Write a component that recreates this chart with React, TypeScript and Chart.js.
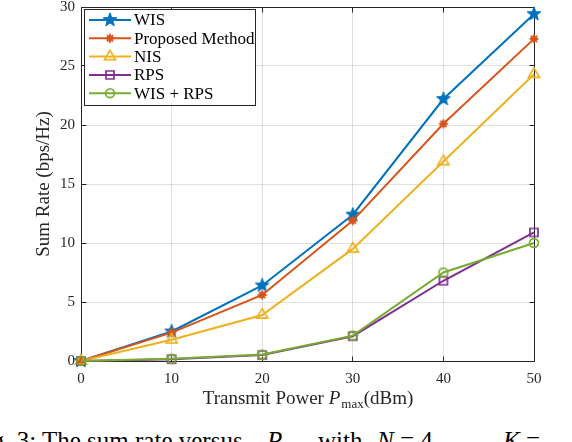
import React, { useEffect, useRef } from "react";
import { Chart, registerables } from "chart.js";

Chart.register(...registerables);

// ---- data ----
const xValues = [0, 10, 20, 30, 40, 50];
const wisValues = [0, 2.5, 6.4, 12.4, 22.2, 29.4];
const proposedValues = [0, 2.4, 5.6, 11.9, 20.1, 27.3];
const nisValues = [0, 1.8, 3.9, 9.5, 16.9, 24.3];
const rpsValues = [0, 0.15, 0.5, 2.1, 6.8, 10.9];
const wisRpsValues = [0, 0.2, 0.55, 2.15, 7.5, 10.0];

const seriesNames = ["WIS", "Proposed Method", "NIS", "RPS", "WIS + RPS"];
const seriesColors = ["#0072BD", "#D95319", "#EDB120", "#7E2F8E", "#77AC30"];
const seriesMarkers = ["star", "asterisk", "triangle", "square", "circle"];

const xTickStep = 10;
const yTickStep = 5;
const xMin = 0, xMax = 50, yMin = 0, yMax = 30;
const yTitle = "Sum Rate (bps/Hz)";

const SERIF = '"Liberation Serif", "Times New Roman", serif';
const TXT = "#262626";
const GRID = "rgba(38,38,38,0.14)";

function makeMarker(kind: string, color: string): HTMLCanvasElement {
  const s = 18;
  const c = document.createElement("canvas");
  c.width = s;
  c.height = s;
  const g = c.getContext("2d")!;
  g.translate(s / 2, s / 2);
  g.strokeStyle = color;
  g.fillStyle = color;
  g.lineWidth = 1.7;
  g.beginPath();
  if (kind === "star") {
    const R = 7.2, r = 3;
    for (let k = 0; k < 10; k++) {
      const ang = -Math.PI / 2 + (k * Math.PI) / 5;
      const rad = k % 2 === 0 ? R : r;
      const px = Math.cos(ang) * rad, py = Math.sin(ang) * rad;
      if (k === 0) g.moveTo(px, py); else g.lineTo(px, py);
    }
    g.closePath();
    g.fill();
    g.lineWidth = 1;
    g.stroke();
  } else if (kind === "asterisk") {
    const R = 4.4;
    g.lineWidth = 1.9;
    for (let k = 0; k < 4; k++) {
      const ang = (k * Math.PI) / 4;
      g.moveTo(Math.cos(ang) * R, Math.sin(ang) * R);
      g.lineTo(-Math.cos(ang) * R, -Math.sin(ang) * R);
    }
    g.stroke();
    g.beginPath();
    g.arc(0, 0, 2.8, 0, Math.PI * 2);
    g.fill();
  } else if (kind === "triangle") {
    const R = 6.4;
    g.moveTo(0, -R);
    g.lineTo(R * 0.866, R * 0.5);
    g.lineTo(-R * 0.866, R * 0.5);
    g.closePath();
    g.stroke();
  } else if (kind === "square") {
    const h = 4;
    g.rect(-h, -h, 2 * h, 2 * h);
    g.stroke();
  } else {
    g.arc(0, 0, 4.4, 0, Math.PI * 2);
    g.stroke();
  }
  return c;
}

const al = (p: number) => Math.round(p - 0.5) + 0.5;

export default function App() {
  const ref = useRef<HTMLCanvasElement | null>(null);

  useEffect(() => {
    const canvas = ref.current;
    if (!canvas) return;
    const allValues = [wisValues, proposedValues, nisValues, rpsValues, wisRpsValues];
    const markers = seriesMarkers.map((m, i) => makeMarker(m, seriesColors[i]));

    const framePlugin = {
      id: "frame",
      beforeDatasetsDraw(chart: any) {
        const { ctx, chartArea: a, scales } = chart;
        const L = al(a.left), R = al(a.right), T = al(a.top), B = al(a.bottom);
        ctx.save();
        ctx.strokeStyle = TXT;
        ctx.lineWidth = 1;
        ctx.beginPath();
        ctx.rect(L, T, R - L, B - T);
        const tl = 5;
        for (let v = xMin; v <= xMax; v += xTickStep) {
          const px = al(scales.x.getPixelForValue(v));
          ctx.moveTo(px, B); ctx.lineTo(px, B - tl);
          ctx.moveTo(px, T); ctx.lineTo(px, T + tl);
        }
        for (let v = yMin; v <= yMax; v += yTickStep) {
          const py = al(scales.y.getPixelForValue(v));
          ctx.moveTo(L, py); ctx.lineTo(L + tl, py);
          ctx.moveTo(R, py); ctx.lineTo(R - tl, py);
        }
        ctx.stroke();
        ctx.restore();
      },
      afterDraw(chart: any) {
        const { ctx, chartArea: a } = chart;
        ctx.save();
        // x-axis title with subscript
        const parts = [
          { t: "Transmit Power ", f: `19px ${SERIF}`, dy: 0 },
          { t: "P", f: `italic 19px ${SERIF}`, dy: 0 },
          { t: "max", f: `13px ${SERIF}`, dy: 4 },
          { t: "(dBm)", f: `19px ${SERIF}`, dy: 0 },
        ];
        let total = 0;
        const widths = parts.map((p) => {
          ctx.font = p.f;
          const w = ctx.measureText(p.t).width;
          total += w;
          return w;
        });
        let x = (a.left + a.right) / 2 - total / 2;
        const baseY = 404;
        ctx.fillStyle = TXT;
        ctx.textBaseline = "alphabetic";
        ctx.textAlign = "left";
        parts.forEach((p, i) => {
          ctx.font = p.f;
          ctx.fillText(p.t, x, baseY + p.dy);
          x += widths[i] + (p.t === "P" ? 1 : 0);
        });

        // legend box
        const x0 = 84, y0 = 9, x1 = 255, y1 = 105;
        ctx.fillStyle = "#ffffff";
        ctx.fillRect(x0, y0, x1 - x0, y1 - y0);
        ctx.strokeStyle = TXT;
        ctx.lineWidth = 1;
        ctx.strokeRect(x0 + 0.5, y0 + 0.5, x1 - x0, y1 - y0);
        ctx.font = `17px ${SERIF}`;
        ctx.textBaseline = "middle";
        seriesNames.forEach((name, i) => {
          const ry = 20 + i * 18.3;
          ctx.strokeStyle = seriesColors[i];
          ctx.lineWidth = 2;
          ctx.beginPath();
          ctx.moveTo(89, ry);
          ctx.lineTo(131, ry);
          ctx.stroke();
          const m = markers[i];
          ctx.drawImage(m, 110 - m.width / 2, ry - m.height / 2);
          ctx.fillStyle = "#000";
          ctx.fillText(name, 134, ry + 1);
        });
        ctx.restore();
      },
    };

    const chart = new Chart(canvas, {
      type: "line",
      data: {
        datasets: seriesNames.map((name, i) => ({
          label: name,
          data: xValues.map((x, k) => ({ x, y: allValues[i][k] })),
          borderColor: seriesColors[i],
          backgroundColor: seriesColors[i],
          borderWidth: 2,
          pointStyle: markers[i] as any,
          pointRadius: 5,
          pointHoverRadius: 5,
          tension: 0,
          clip: false as any,
          order: seriesNames.length - i,
        })),
      },
      options: {
        responsive: false,
        animation: false,
        devicePixelRatio: window.devicePixelRatio || 1,
        layout: { padding: { left: 0, top: 5, right: 38, bottom: 0 } },
        plugins: {
          legend: { display: false },
          tooltip: { enabled: false },
        },
        scales: {
          x: {
            type: "linear",
            min: xMin,
            max: xMax,
            ticks: {
              stepSize: xTickStep,
              color: TXT,
              font: { family: SERIF, size: 15 },
              padding: 9,
              maxRotation: 0,
            },
            grid: { color: GRID, drawTicks: false, lineWidth: 1 },
            border: { display: false },
            afterFit: (s: any) => {
              s.height = 54;
              s.paddingLeft = 0;
              s.paddingRight = 0;
            },
          },
          y: {
            type: "linear",
            min: yMin,
            max: yMax,
            ticks: {
              stepSize: yTickStep,
              color: TXT,
              font: { family: SERIF, size: 15 },
              padding: 6,
            },
            grid: { color: GRID, drawTicks: false, lineWidth: 1 },
            border: { display: false },
            title: {
              display: true,
              text: yTitle,
              color: TXT,
              font: { family: SERIF, size: 19, lineHeight: 1.2 },
              padding: { top: 33, bottom: 0 },
            },
            afterFit: (s: any) => {
              s.width = 81;
              s.paddingTop = 0;
              s.paddingBottom = 0;
            },
          },
        },
      },
      plugins: [framePlugin],
    } as any);

    return () => chart.destroy();
  }, []);

  const cap: React.CSSProperties = {
    position: "absolute",
    top: 428,
    whiteSpace: "nowrap",
    fontFamily: SERIF,
    fontSize: 25,
    lineHeight: "25px",
    color: "#000",
  };

  return (
    <div
      style={{
        position: "fixed",
        left: 0,
        top: 0,
        width: 572,
        height: 442,
        overflow: "hidden",
        background: "#fff",
      }}
    >
      <canvas
        ref={ref}
        width={572}
        height={415}
        style={{ position: "absolute", left: 0, top: 0, width: 572, height: 415, display: "block" }}
      />
      <span style={{ ...cap, left: -29 }}>Fig. 3:</span>
      <span style={{ ...cap, left: 42 }}>The sum rate versus</span>
      <span style={{ ...cap, left: 267 }}>
        <i>P</i>
        <span style={{ fontSize: 17, position: "relative", top: 5 }}>max</span>
      </span>
      <span style={{ ...cap, left: 318 }}>with</span>
      <span style={{ ...cap, left: 377 }}>
        <i>N</i> = 4,
      </span>
      <span style={{ ...cap, left: 503 }}>
        <i>K</i> =
      </span>
    </div>
  );
}
